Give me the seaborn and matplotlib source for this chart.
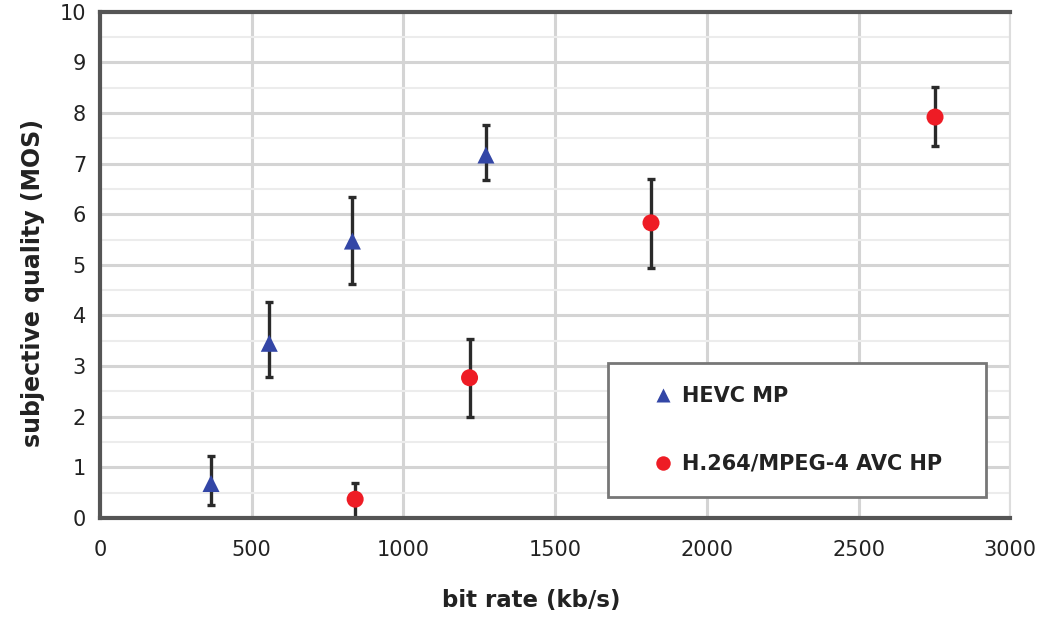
import numpy as np
import pandas as pd
import matplotlib
matplotlib.use("Agg")
import matplotlib.pyplot as plt
import seaborn as sns
from matplotlib.ticker import MultipleLocator

# HEVC MP
hevc_rate = [366, 558, 832, 1272]
hevc_mos = [0.68, 3.45, 5.47, 7.17]
hevc_lo = [0.25, 2.78, 4.63, 6.67]
hevc_hi = [1.22, 4.27, 6.35, 7.77]

# H.264/MPEG-4 AVC HP
avc_rate = [841, 1218, 1816, 2752]
avc_mos = [0.37, 2.77, 5.83, 7.92]
avc_lo = [0.0, 1.99, 4.94, 7.34]
avc_hi = [0.68, 3.53, 6.69, 8.52]

labels = ["HEVC MP", "H.264/MPEG-4 AVC HP"]

df = pd.DataFrame({
    "rate": hevc_rate + avc_rate,
    "mos": hevc_mos + avc_mos,
    "lo": hevc_lo + avc_lo,
    "hi": hevc_hi + avc_hi,
    "codec": [labels[0]] * len(hevc_rate) + [labels[1]] * len(avc_rate),
})

sns.set_theme(style="white")
plt.rcParams['font.family'] = ['DejaVu Sans']

fig = plt.figure(figsize=(10.38, 6.21), dpi=100)
ax = fig.add_axes([0.0963, 0.166, 0.877, 0.815])

# error bars first so markers sit on top
ax.errorbar(df["rate"], df["mos"],
            yerr=[df["mos"] - df["lo"], df["hi"] - df["mos"]],
            fmt="none", ecolor="#2a2a2a", elinewidth=2.4, capsize=3,
            capthick=2.4, zorder=2)

sns.scatterplot(data=df, x="rate", y="mos", hue="codec", style="codec",
                palette={labels[0]: "#3346a6", labels[1]: "#ee1c25"},
                markers={labels[0]: "^", labels[1]: "o"},
                s=150, edgecolor="none", ax=ax, zorder=3)

ax.set_xlim(0, 3000)
ax.set_ylim(0, 10)
ax.xaxis.set_major_locator(MultipleLocator(500))
ax.yaxis.set_major_locator(MultipleLocator(1))
ax.yaxis.set_minor_locator(MultipleLocator(0.5))

ax.grid(True, which="major", axis="both", color="#d4d4d4", linewidth=2.2)
ax.grid(True, which="minor", axis="y", color="#ececec", linewidth=1.5)
ax.set_axisbelow(True)

for side in ["left", "bottom", "top"]:
    ax.spines[side].set_color("#555555")
    ax.spines[side].set_linewidth(3)
ax.spines["right"].set_color("#dddddd")
ax.spines["right"].set_linewidth(1.5)

ax.tick_params(axis="both", which="both", length=0, labelsize=15, colors="#222222")
ax.tick_params(axis="x", pad=16)
ax.tick_params(axis="y", pad=10)
ax.set_xlabel("bit rate (kb/s)", fontsize=16.5, fontweight="bold", color="#222222")
ax.set_ylabel("subjective quality (MOS)", fontsize=17, fontweight="bold", color="#222222")
ax.xaxis.set_label_coords(0.474, -0.14)
ax.yaxis.set_label_coords(-0.06, 0.465)

handles, lbls = ax.get_legend_handles_labels()
leg = ax.legend(handles, lbls, loc="lower left",
                bbox_to_anchor=(0.5586, 0.0415, 0.4148, 0.26), mode="expand",
                fontsize=15, frameon=True, fancybox=False, edgecolor="#777777",
                framealpha=1, borderpad=1.1, labelspacing=2.3, handletextpad=-0.65,
                handlelength=3.08, markerscale=0.85, borderaxespad=0)
leg.get_frame().set_linewidth(2)
for t in leg.get_texts():
    t.set_fontweight("bold")
    t.set_color("#222222")

fig.savefig("out.png", dpi=100)
